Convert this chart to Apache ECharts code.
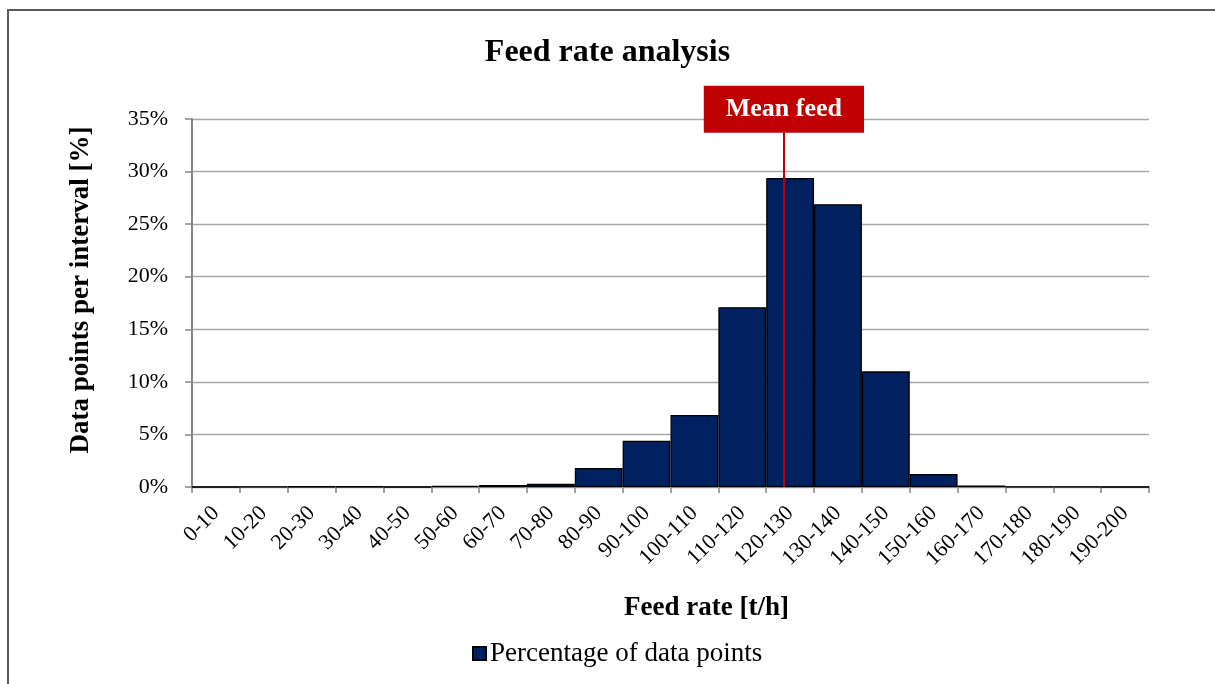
<!DOCTYPE html>
<html>
<head>
<meta charset="utf-8">
<script src="https://cdn.jsdelivr.net/npm/echarts@6/dist/echarts.min.js"></script>
<style>
html,body{margin:0;padding:0;background:#fff;}
#chart{width:1215px;height:684px;}
</style>
</head>
<body>
<div id="chart"></div>
<script>
const categories = ['0-10','10-20','20-30','30-40','40-50','50-60','60-70','70-80','80-90','90-100','100-110','110-120','120-130','130-140','140-150','150-160','160-170','170-180','180-190','190-200'];
const percentages = [0, 0.03, 0.05, 0.05, 0, 0.1, 0.2, 0.3, 1.8, 4.4, 6.85, 17.1, 29.4, 26.9, 11.0, 1.24, 0.15, 0.03, 0.03, 0];
const meanFeed = 123.7;
const yTicks = [0, 5, 10, 15, 20, 25, 30, 35];

const FONT = "'Liberation Serif', 'Times New Roman', serif";
const chart = echarts.init(document.getElementById('chart'));
chart.setOption({
  animation: false,
  backgroundColor: '#ffffff',
  title: {
    text: 'Feed rate analysis',
    left: 'center',
    top: 37,
    padding: [0, 0, 0, 10],
    textStyle: { fontFamily: FONT, fontSize: 32, fontWeight: 'bold', color: '#000' }
  },
  legend: {
    data: ['Percentage of data points'],
    left: 467,
    top: 635,
    itemWidth: 13,
    itemHeight: 13,
    icon: 'rect',
    textStyle: { fontFamily: FONT, fontSize: 27, color: '#000', padding: [0,0,0,-1] }
  },
  grid: { left: 192, right: 66, top: 119, bottom: 197, containLabel: false },
  xAxis: [{
    type: 'category',
    data: categories,
    boundaryGap: true,
    name: 'Feed rate [t/h]',
    nameLocation: 'middle',
    nameGap: 108,
    nameTextStyle: { fontFamily: FONT, fontSize: 27, fontWeight: 'bold', color: '#000', padding: [0,0,0,72] },
    axisLine: { lineStyle: { color: '#868686', width: 2 } },
    axisTick: { show: true, length: 6, lineStyle: { color: '#868686', width: 1.5 } },
    axisLabel: { rotate: 45, margin: 23, interval: 0, fontFamily: FONT, fontSize: 22, color: '#000' },
    splitLine: { show: false }
  }, {
    type: 'value',
    min: 0,
    max: 200,
    show: false
  }],
  yAxis: {
    type: 'value',
    min: yTicks[0],
    max: yTicks[yTicks.length - 1],
    interval: 5,
    name: 'Data points per interval [%]',
    nameLocation: 'middle',
    nameRotate: 90,
    nameGap: 97,
    nameTextStyle: { fontFamily: FONT, fontSize: 27, fontWeight: 'bold', color: '#000', padding: [0,0,0,26] },
    axisLine: { show: true, lineStyle: { color: '#868686', width: 2 } },
    axisTick: { show: true, length: 7, lineStyle: { color: '#868686', width: 1.5 } },
    axisLabel: { formatter: '{value}%', margin: 24, fontFamily: FONT, fontSize: 22, color: '#000' },
    splitLine: { show: true, lineStyle: { color: '#a6a6a6', width: 1.3 } }
  },
  graphic: [{
    type: 'rect',
    shape: { x: 8, y: 10, width: 1400, height: 900 },
    style: { fill: null, stroke: '#595959', lineWidth: 2 },
    silent: true,
    z: 100
  }],
  series: [{
    name: 'Percentage of data points',
    type: 'bar',
    data: percentages,
    barCategoryGap: '0%',
    itemStyle: { color: '#002060', borderColor: '#000', borderWidth: 1.3 }
  }, {
    name: 'mean',
    type: 'line',
    xAxisIndex: 1,
    yAxisIndex: 0,
    data: [[meanFeed, 0]],
    symbol: 'none',
    showSymbol: false,
    clip: false,
    lineStyle: { width: 0 },
    silent: true,
    z: 5,
    markLine: {
      symbol: 'none',
      silent: true,
      animation: false,
      lineStyle: { color: '#c00000', width: 2, type: 'solid' },
      label: {
        show: true,
        position: 'start',
        distance: 0,
        formatter: 'Mean feed',
        backgroundColor: '#c00000',
        color: '#fff',
        fontFamily: FONT,
        fontSize: 26,
        fontWeight: 'bold',
        padding: [11, 22, 10, 22]
      },
      data: [[{ coord: [meanFeed, 33.7] }, { coord: [meanFeed, 0] }]]
    }
  }]
});
</script>
</body>
</html>
